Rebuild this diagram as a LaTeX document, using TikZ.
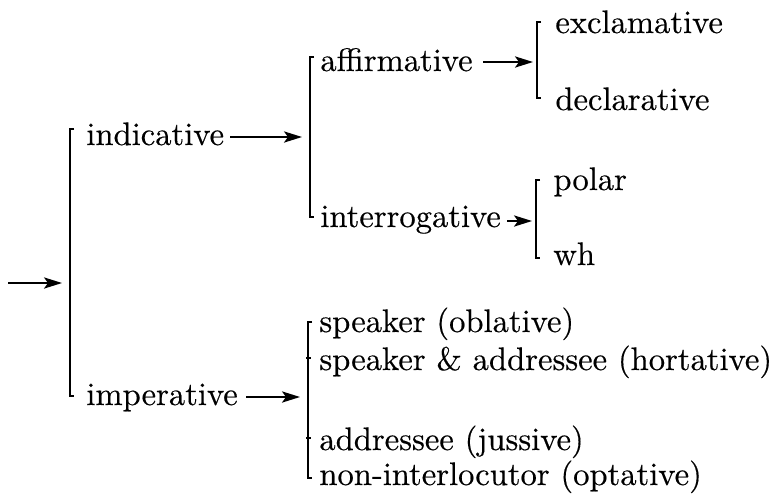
\documentclass[tikz,border=0pt]{standalone}
\usepackage{fontspec}
\setmainfont{lmroman10-regular.otf}[
  BoldFont=lmroman10-regular.otf,
  BoldFeatures={FakeBold=0.35}]
\usetikzlibrary{arrows.meta}
\begin{document}
\begin{tikzpicture}[x=0.5pt,y=-0.5pt,
  lbl/.style={anchor=base west,inner sep=0pt,font=\fontsize{16.3}{19}\selectfont\bfseries},
  brk/.style={line width=0.9pt},
  arr/.style={line width=0.9pt,-{Stealth[length=9pt,width=5.6pt,inset=2pt]}}]
\useasboundingbox (0,0) rectangle (775,493);

% entry arrow into the first system
\coordinate (in0) at (8,283);
\coordinate (b0) at (70,283);
\draw[arr] (in0) -- ([xshift=-4pt]b0);
\draw[brk] (74,129) -- (70,129) -- (70,396) -- (74,396);

% first-level terms
\node[lbl] (indic) at (86,145) {indicative};
\node[lbl] (imper) at (86,405) {imperative};

% indicative system
\coordinate (b1) at (310,137);
\draw[arr] ([xshift=3pt]indic.east |- b1) -- ([xshift=-4pt]b1);
\draw[brk] (314,57) -- (310,57) -- (310,217) -- (314,217);
\node[lbl] (affirm) at (320,71) {affirmative};
\node[lbl] (interr) at (320,227) {interrogative};

% affirmative system
\coordinate (b2) at (537,62);
\draw[arr] ([xshift=5pt]affirm.east |- b2) -- ([xshift=-2pt]b2);
\draw[brk] (541,22) -- (537,22) -- (537,98) -- (541,98);
\node[lbl] (excl) at (555,33) {exclamative};
\node[lbl] (decl) at (555,110) {declarative};

% interrogative system
\coordinate (b3) at (536,221);
\draw[arr] ([xshift=3pt]interr.east |- b3) -- ([xshift=-2pt]b3);
\draw[brk] (540,180) -- (536,180) -- (536,258) -- (540,258);
\node[lbl] (polar) at (553,190) {polar};
\node[lbl] (wh) at (553,265) {wh};

% imperative system
\coordinate (b4) at (308,397);
\draw[arr] ([xshift=4pt]imper.east |- b4) -- ([xshift=-4pt]b4);
\draw[brk] (312,322) -- (308,322) -- (308,478) -- (312,478);
\draw[brk] (306,358) -- (311,358);
\draw[brk] (306,438) -- (311,438);
\node[lbl] (obl) at (319,332) {speaker (oblative)};
\node[lbl] (hort) at (319,370) {speaker \& addressee (hortative)};
\node[lbl] (juss) at (319,450) {addressee (jussive)};
\node[lbl] (opt) at (319,485) {non-interlocutor (optative)};
\end{tikzpicture}
\end{document}
